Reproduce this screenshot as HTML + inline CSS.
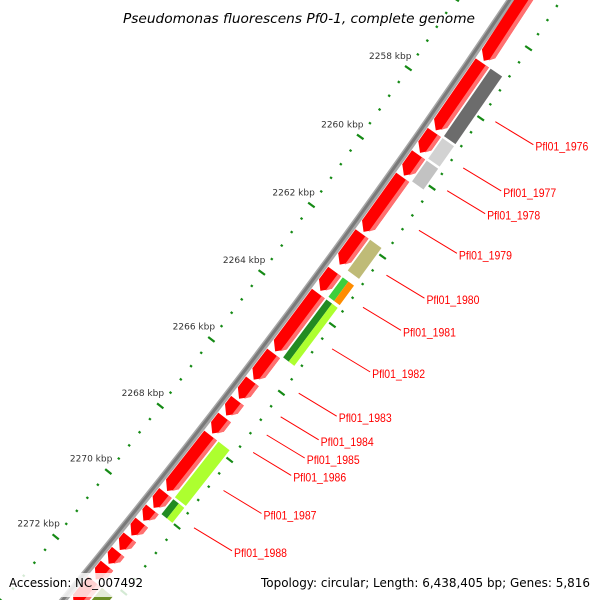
<!DOCTYPE html>
<html><head><meta charset="utf-8">
<style>
html,body{margin:0;padding:0;background:#fff;width:600px;height:600px;overflow:hidden;}
svg{display:block;overflow:hidden;}
</style></head>
<body>
<svg id="chart" width="600" height="600" viewBox="0 0 600 600" xmlns="http://www.w3.org/2000/svg">
<g id="layer"></g>
</svg>
<script>
// ---- data ----
const redStarts = [2250, 2256.9, 2258.9, 2259.55, 2260.2, 2261.85, 2262.95, 2263.6, 2265.37, 2266.2, 2266.78, 2267.28, 2267.82, 2269.55, 2270.05, 2270.45, 2270.9, 2271.34, 2271.76, 2272.24, 2273.06];
const redEnds   = [2256.84, 2258.84, 2259.49, 2260.15, 2261.79, 2262.75, 2263.52, 2265.31, 2266.15, 2266.72, 2267.22, 2267.76, 2269.49, 2270.0, 2270.39, 2270.84, 2271.28, 2271.7, 2272.18, 2273.0, 2276];
const boxStarts = [2256.9, 2258.9, 2259.55, 2261.85, 2262.95, 2262.95, 2263.6, 2263.6, 2267.82, 2269.55, 2269.55, 2272.24];
const boxEnds   = [2258.84, 2259.49, 2260.15, 2262.75, 2263.52, 2263.52, 2265.31, 2265.31, 2269.49, 2270.0, 2270.0, 2273.0];
const boxColors = ["#6c6c6c", "#d2d2d2", "#c2c2c2", "#bfbb77", "#3ccf3c", "#ff8c00", "#228b22", "#adff2f", "#adff2f", "#228b22", "#adff2f", "#6b8e23"];
const boxHalf   = [0, 0, 0, 0, 1, 2, 1, 2, 0, 1, 2, 0]; // 0 full, 1 inner half, 2 outer half
const labelNames = ["Pfl01_1976","Pfl01_1977","Pfl01_1978","Pfl01_1979","Pfl01_1980","Pfl01_1981","Pfl01_1982","Pfl01_1983","Pfl01_1984","Pfl01_1985","Pfl01_1986","Pfl01_1987","Pfl01_1988"];
const labelGene  = [1,2,3,4,5,6,7,8,9,10,11,12,13];
const kbpTicks   = [2258, 2260, 2262, 2264, 2266, 2268, 2270, 2272];

// ---- geometry ----
const CX=-5621, CY=-4102, K0=2258, A0=34.67, DEG_PER_KBP=0.3275;
const R_TICK=7331, R_BB=7377, R_RED1=7381, R_RED2=7397, R_BOX1=7399, R_BOX2=7413, R_DOT2=7419, R_LBL=7433;
function ang(k){return (A0+(k-K0)*DEG_PER_KBP)*Math.PI/180;}
function P(k,r){const a=ang(k);return [CX+r*Math.cos(a), CY+r*Math.sin(a)];}
function pts(arr){return arr.map(p=>p[0].toFixed(2)+','+p[1].toFixed(2)).join(' ');}
const NS='http://www.w3.org/2000/svg';
const layer=document.getElementById('layer');
function mk(tag,attrs){const e=document.createElementNS(NS,tag);for(const k in attrs)e.setAttribute(k,attrs[k]);layer.appendChild(e);return e;}
function arcPath(r,k0,k1){const a=P(k0,r),b=P(k1,r);return 'M'+a[0]+','+a[1]+' A'+r+','+r+' 0 0 1 '+b[0]+','+b[1];}

// backbone
let bb=mk('path',{d:arcPath(R_BB,2254,2274),stroke:'#a8a8a8','stroke-width':7,fill:'none'});


let bb2=mk('path',{d:arcPath(R_BB-0.5,2254,2274),stroke:'#7a7a7a','stroke-width':3,fill:'none'});



// tick rings
function tickRing(r,name){
  for(let i=-10;i<=40;i++){
    const k=K0+i*0.4;
    const major=(i%5===0);
    const half=major?4:1.2;
    const a=P(k,r-half),b=P(k,r+half);
    const t=mk('line',{x1:a[0],y1:a[1],x2:b[0],y2:b[1],stroke:'#158a15','stroke-width':2.2});
    
    
  }
}
tickRing(R_TICK,'tick-mark');
tickRing(R_DOT2,'outer-tick-mark');

// kbp labels
kbpTicks.forEach(k=>{
  const p=P(k,R_TICK-22);
  const t=mk('text',{x:p[0],y:p[1]+3.5,'text-anchor':'middle','font-family':'"DejaVu Sans","Liberation Sans",sans-serif','font-size':'9',fill:'#333'});
  t.textContent=k+' kbp';
  
  
});

// red genes
for(let i=0;i<redStarts.length;i++){
  const a=redStarts[i],b=redEnds[i];
  const hk=Math.min(0.2,(b-a)*0.6);
  const mid=(R_RED1+R_RED2)/2;
  const g=mk('polygon',{points:pts([P(a,R_RED1),P(b-hk,R_RED1),P(b,mid),P(b-hk,R_RED2),P(a,R_RED2)]),fill:'#ff0000'});
  
  
  const s=mk('polygon',{points:pts([P(a,R_RED2),P(b-hk,R_RED2),P(b-hk*3/8,R_RED2-4),P(a,R_RED2-4)]),fill:'#ff7070'});
  
  
}

// second track boxes
for(let i=0;i<boxStarts.length;i++){
  const a=boxStarts[i],b=boxEnds[i];
  const m=(R_BOX1+R_BOX2)/2;
  const r1=boxHalf[i]===2?m:R_BOX1, r2=boxHalf[i]===1?m:R_BOX2;
  const g=mk('polygon',{points:pts([P(a,r1),P(b,r1),P(b,r2),P(a,r2)]),fill:boxColors[i]});
  
  
}

// gene labels
labelNames.forEach((nm,i)=>{
  const gi=labelGene[i];
  const k=(redStarts[gi]+redEnds[gi])/2;
  const s=P(k,R_LBL);
  const e=[s[0]+38,s[1]+23];
  const l=mk('line',{x1:s[0],y1:s[1],x2:e[0],y2:e[1],stroke:'#ff0000','stroke-width':1});
  
  
  const t=mk('text',{x:e[0]+2,y:e[1]+6,'font-family':'"Liberation Sans",sans-serif','font-size':'12',fill:'#ff0000',textLength:'53',lengthAdjust:'spacingAndGlyphs'});
  t.textContent=nm;
  
  
});

// bottom overlay + text
let ov=mk('rect',{x:0,y:573,width:150,height:24,fill:'#fff','fill-opacity':0.82});


let ac=mk('text',{x:9,y:587,'font-family':'"DejaVu Sans","Liberation Sans",sans-serif','font-size':'12.5',fill:'#000',textLength:'134',lengthAdjust:'spacingAndGlyphs'});
ac.textContent='Accession: NC_007492';


let tp=mk('text',{x:261,y:587,'font-family':'"DejaVu Sans","Liberation Sans",sans-serif','font-size':'12.5',fill:'#000',textLength:'329',lengthAdjust:'spacingAndGlyphs'});
tp.textContent='Topology: circular; Length: 6,438,405 bp; Genes: 5,816';


let ti=mk('text',{x:123,y:23,'font-family':'"DejaVu Sans","Liberation Sans",sans-serif','font-size':'13.5','font-style':'italic',fill:'#000',textLength:'352',lengthAdjust:'spacingAndGlyphs'});
ti.textContent='Pseudomonas fluorescens Pf0-1, complete genome';


</script>
</body></html>
